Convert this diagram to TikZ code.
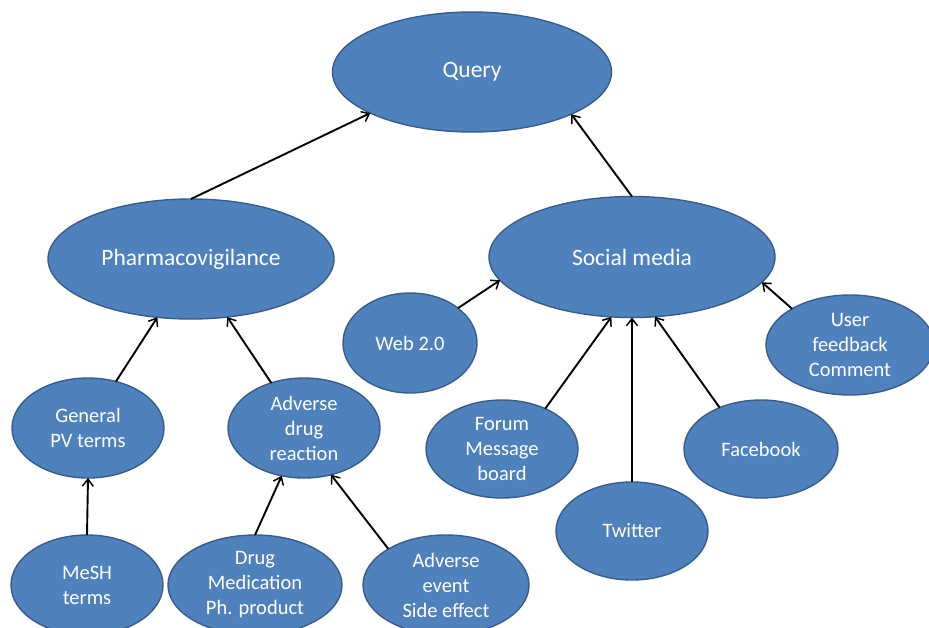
\documentclass[tikz,border=0pt]{standalone}
\usepackage{fontspec}
\setmainfont{Carlito}
\usetikzlibrary{shapes.geometric,arrows.meta}
\definecolor{nodefill}{HTML}{4F81BD}
\definecolor{nodeline}{HTML}{385D8A}
\tikzset{
  bub/.style={ellipse, draw=nodeline, line width=1.4pt, fill=nodefill, text=white,
    inner sep=0pt, outer sep=0pt, align=center},
  big/.style={bub, font=\fontsize{23.5}{28}\selectfont},
  small/.style={bub, font=\fontsize{20.5}{25}\selectfont},
  arr/.style={-{Straight Barb[length=7pt,width=11pt,line width=1.5pt]}, line width=1.9pt, black},
}
\begin{document}
\begin{tikzpicture}[x=1pt,y=-1pt]
\useasboundingbox (0,0) rectangle (929,627);
\clip (0,0) rectangle (929,627);
\fill[white] (0,0) rectangle (929,627);
\node[big, minimum width=279pt, minimum height=120pt] (query) at (472,72) {Query};
\node[big, minimum width=286pt, minimum height=120pt] (pharma) at (191,259) {Pharmacovigilance};
\node[big, minimum width=286pt, minimum height=121pt] (social) at (632,257) {Social media};
\node[small, minimum width=152pt, minimum height=100pt] (gen) at (88,428) {General\\PV terms};
\node[small, minimum width=152pt, minimum height=100pt] (adr) at (304,428) {Adverse\\drug\\reaction};
\node[small, minimum width=152pt, minimum height=100pt] (mesh) at (87,585) {MeSH\\terms};
\node[small, minimum width=174pt, minimum height=100pt] (drug) at (255,585) {Drug\\Medication\\Ph. product};
\node[small, minimum width=166pt, minimum height=100pt] (ae) at (446,585) {Adverse\\event\\Side effect};
\node[small, minimum width=134pt, minimum height=100pt] (web) at (410,343) {Web 2.0};
\node[small, minimum width=152pt, minimum height=98pt] (forum) at (502,449) {Forum\\Message\\board};
\node[small, minimum width=152pt, minimum height=98pt] (twitter) at (632,531) {Twitter};
\node[small, minimum width=154pt, minimum height=98pt] (fb) at (761,449) {Facebook};
\node[small, minimum width=168pt, minimum height=100pt] (user) at (850,345) {User\\feedback\\Comment};

\draw[arr] (pharma.north) -- (query.202.5);
\draw[arr] (social.north) -- (query.337);
\draw[arr] (gen.59) -- (pharma.240);
\draw[arr] (adr.126) -- (pharma.302.6);
\draw[arr] (mesh.north) -- (gen.south);
\draw[arr] (drug.north) -- (adr.245);
\draw[arr] (ae.148) -- (adr.300.6);
\draw[arr] (web.36) -- (social.190.7);
\draw[arr] (forum.43) -- (social.251);
\draw[arr] (twitter.north) -- (social.south);
\draw[arr] (fb.135) -- (social.291.5);
\draw[arr] (user.148) -- (social.349);
\end{tikzpicture}
\end{document}
